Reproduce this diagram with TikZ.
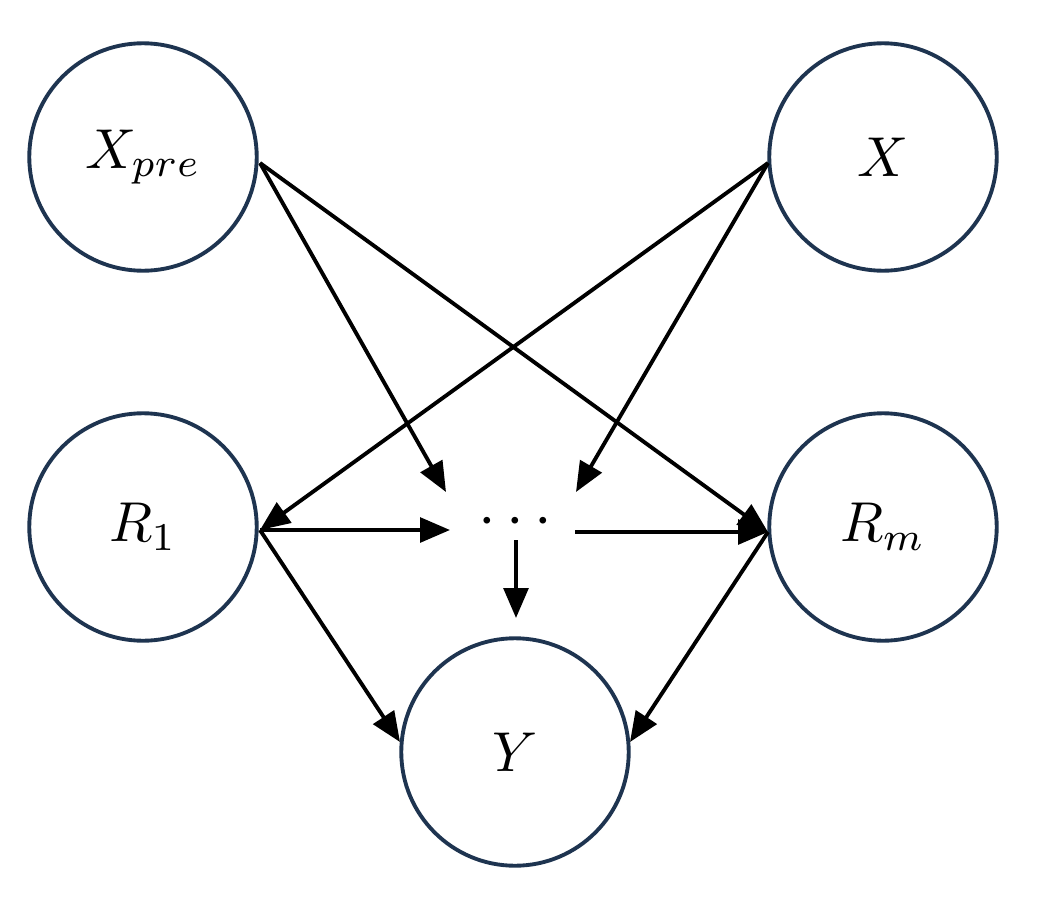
\documentclass[tikz,border=0pt]{standalone}
\usepackage{graphicx}
\usetikzlibrary{arrows.meta}
\newcommand{\bigt}[1]{\scalebox{3.2}{#1}}
\begin{document}
\begin{tikzpicture}[x=0.02cm,y=-0.02cm,
  nd/.style={circle,draw=circ,line width=2.2pt,minimum size=4.55cm,inner sep=0pt},
  ar/.style={-{Triangle[length=17pt,width=14pt]},line width=2.2pt,black}]
\definecolor{circ}{HTML}{1E3450}
\useasboundingbox (0,0) rectangle (1039,900);
\node[nd] (xp) at (143,157) {\bigt{$X_{pre}$}};
\node[nd] (x) at (883,157) {\bigt{$X$}};
\node[nd] (r1) at (143,527) {\bigt{$R_1$}};
\node[nd] (rm) at (883,527) {\bigt{$R_m$}};
\node[nd] (y) at (515,752) {\bigt{$Y$}};
\node (d) at (515,522) {\scalebox{3.6}{$\cdots$}};
\coordinate (xpa) at (260,163);
\coordinate (xa) at (768,163);
\coordinate (r1e) at (260,530);
\coordinate (rme) at (768,532);
\coordinate (dl) at (450,530);
\coordinate (dr) at (575,532);
\coordinate (dtl) at (446,492);
\coordinate (dtr) at (576,492);
\coordinate (db) at (516,540);
\coordinate (dbe) at (516,618);
\coordinate (yl) at (400,742);
\coordinate (yr) at (630,742);
\draw[ar] (xpa) -- (dtl);
\draw[ar] (xpa) -- (rme);
\draw[ar] (xa) -- (r1e);
\draw[ar] (xa) -- (dtr);
\draw[ar] (r1e) -- (dl);
\draw[ar] (dr) -- (rme);
\draw[ar] (db) -- (dbe);
\draw[ar] (r1e) -- (yl);
\draw[ar] (rme) -- (yr);
\end{tikzpicture}
\end{document}
